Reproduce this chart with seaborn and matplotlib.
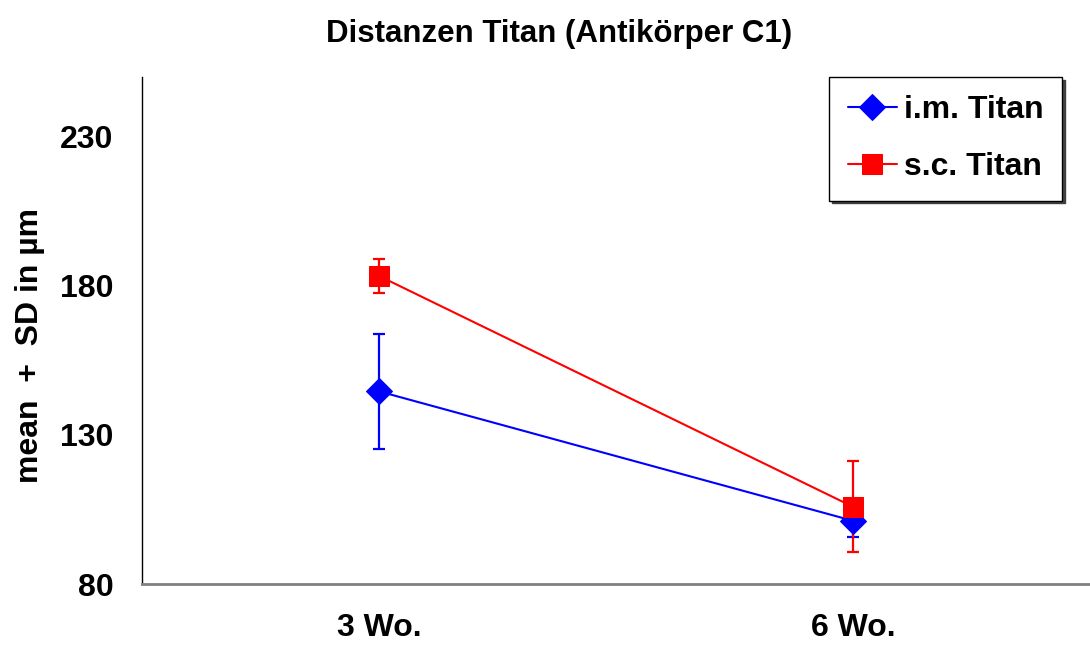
import pandas as pd
import matplotlib
matplotlib.use("Agg")
import matplotlib.pyplot as plt
import seaborn as sns

# Werte
zeitpunkte = ["3 Wo.", "6 Wo."]
gruppen = ["i.m. Titan", "s.c. Titan"]
mean_im = [144.6, 101.2]
sd_im = [19.4, 5.4]
mean_sc = [183.3, 105.9]
sd_sc = [5.7, 15.2]

df = pd.DataFrame({
    "zeit": zeitpunkte * 2,
    "gruppe": [gruppen[0]] * 2 + [gruppen[1]] * 2,
    "mean": mean_im + mean_sc,
    "sd": sd_im + sd_sc,
})

sns.set_style("white")
plt.rcParams["font.family"] = ["Liberation Sans", "DejaVu Sans"]
plt.rcParams["font.weight"] = "bold"
plt.rcParams["text.color"] = "black"
plt.rcParams["axes.labelcolor"] = "black"
plt.rcParams["xtick.color"] = "black"
plt.rcParams["ytick.color"] = "black"

farben = {"i.m. Titan": "#0000ff", "s.c. Titan": "#ff0000"}
marker = {"i.m. Titan": "D", "s.c. Titan": "s"}
msize = {"i.m. Titan": 13, "s.c. Titan": 14}

fig = plt.figure(figsize=(10.9, 6.5), dpi=100)
ax = fig.add_axes([0.1303, 0.1015, 0.8697, 0.78])

for g in gruppen:
    sub = df[df["gruppe"] == g]
    x = [zeitpunkte.index(z) for z in sub["zeit"]]
    ax.errorbar(x, sub["mean"], yerr=sub["sd"], fmt="none", ecolor=farben[g],
                elinewidth=1.6, capsize=4.3, capthick=1.6, zorder=2)
    sns.lineplot(x=x, y=sub["mean"].values, ax=ax, color=farben[g], marker=marker[g],
                 markersize=msize[g], markeredgecolor=farben[g], linewidth=1.5,
                 label=g, zorder=3)

ax.set_xlim(-0.5, 1.5)
ax.set_ylim(80, 250)
ax.set_xticks(range(len(zeitpunkte)))
ax.set_xticklabels(zeitpunkte, fontsize=23, fontweight="bold")
ax.set_yticks([80, 130, 180, 230])
ax.tick_params(axis="y", labelsize=23, length=10, width=1, direction="out", pad=10.5)
for t in ax.yaxis.get_ticklines():
    t.set_color("#555555")
ax.tick_params(axis="x", length=0, pad=21)
ax.set_xlabel("")
ax.set_ylabel("mean  +  SD in µm", fontsize=23, fontweight="bold")
ax.yaxis.set_label_coords(-0.1025, 0.47)

ax.spines["top"].set_visible(False)
ax.spines["right"].set_visible(False)
ax.spines["left"].set_color("black")
ax.spines["left"].set_linewidth(1)
ax.spines["bottom"].set_color("#808080")
ax.spines["bottom"].set_linewidth(2)

leg = ax.legend(loc="upper right", bbox_to_anchor=(0.9705, 1.0), borderaxespad=0,
                fancybox=False, shadow={"color": "#333333", "alpha": 0.9}, frameon=True,
                prop={"size": 23, "weight": "bold"},
                handlelength=1.55, labelspacing=0.85, borderpad=0.57, handletextpad=0.22)
leg.get_frame().set_edgecolor("black")
leg.get_frame().set_linewidth(1)

fig.text(0.513, 0.948, "Distanzen Titan (Antikörper C1)", ha="center", va="center",
         fontsize=22.5, fontweight="bold")

fig.savefig("out.png", dpi=100)
plt.close(fig)
